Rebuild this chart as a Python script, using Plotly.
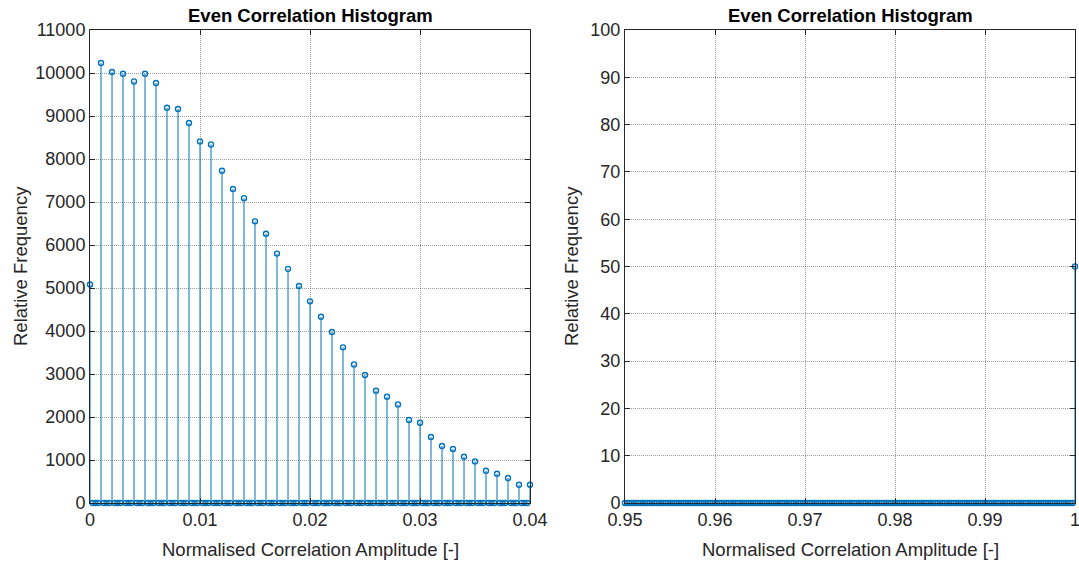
import numpy as np
import plotly.graph_objects as go

# Histogram bin centres (bin width 0.00025) and counts
bin_width = 0.00025
bin_centres = np.round(np.arange(0, 1 + bin_width / 2, bin_width), 5)

# non-zero bins (multiples of 0.001 from 0 to 0.04, plus the peak at 1)
peak_x = [0.000, 0.001, 0.002, 0.003, 0.004, 0.005, 0.006, 0.007, 0.008, 0.009,
          0.010, 0.011, 0.012, 0.013, 0.014, 0.015, 0.016, 0.017, 0.018, 0.019,
          0.020, 0.021, 0.022, 0.023, 0.024, 0.025, 0.026, 0.027, 0.028, 0.029,
          0.030, 0.031, 0.032, 0.033, 0.034, 0.035, 0.036, 0.037, 0.038, 0.039,
          0.040, 1.000]
peak_counts = [5080, 10233, 10023, 9984, 9805, 9984, 9767, 9193, 9163, 8837,
               8409, 8340, 7728, 7302, 7090, 6550, 6263, 5800, 5445, 5047,
               4690, 4330, 3978, 3620, 3223, 2978, 2612, 2472, 2293, 1930,
               1867, 1535, 1326, 1256, 1077, 967, 751, 681, 581, 426,
               426, 50]

counts = np.zeros(len(bin_centres))
for px, pc in zip(peak_x, peak_counts):
    counts[int(round(px / bin_width))] = pc

left_range = [0, 0.04]
right_range = [0.95, 1.0000001]
left_yticks = list(range(0, 11001, 1000))
right_yticks = list(range(0, 101, 10))
left_xticks = [0, 0.01, 0.02, 0.03, 0.04]
left_xlabels = ["0", "0.01", "0.02", "0.03", "0.04"]
right_xticks = [0.95, 0.96, 0.97, 0.98, 0.99, 1.0]
right_xlabels = ["0.95", "0.96", "0.97", "0.98", "0.99", "1"]

title_text = "Even Correlation Histogram"
xlabel = "Normalised Correlation Amplitude [-]"
ylabel = "Relative Frequency"

COLOR = "#0072BD"
FONT = "Liberation Sans, Arial, Helvetica, sans-serif"
AX = "#262626"

fig = go.Figure()


def add_stem(xr, xa, ya):
    m = (bin_centres >= xr[0] - 1e-9) & (bin_centres <= xr[1] + 1e-9)
    xs = bin_centres[m]
    ys = counts[m]
    lx, ly = [], []
    for a, b in zip(xs, ys):
        if b != 0:
            lx += [a, a, None]
            ly += [0, b, None]
    fig.add_trace(go.Scatter(x=lx, y=ly, mode="lines", xaxis=xa, yaxis=ya,
                             line=dict(color=COLOR, width=1), hoverinfo="skip",
                             showlegend=False))
    fig.add_trace(go.Scatter(x=xs, y=ys, mode="markers", xaxis=xa, yaxis=ya,
                             marker=dict(symbol="circle-open", size=5, color=COLOR,
                                         line=dict(width=1.4, color=COLOR)),
                             cliponaxis=False, showlegend=False))


add_stem(left_range, "x", "y")
add_stem(right_range, "x2", "y2")

H = 563
W = 1079
ydom = [1 - 503 / H, 1 - 30 / H]

axis_common = dict(showline=True, linecolor=AX, linewidth=1, mirror="allticks",
                   ticks="inside", ticklen=5, tickcolor=AX, automargin=False,
                   showgrid=True, gridcolor="rgba(38,38,38,0.45)", griddash="1px,1px",
                   gridwidth=1, zeroline=False, ticklabeloverflow="allow",
                   tickfont=dict(family=FONT, size=18, color=AX))

fig.update_layout(
    width=W, height=H,
    margin=dict(l=0, r=0, t=0, b=0),
    paper_bgcolor="white", plot_bgcolor="white",
    font=dict(family=FONT, color=AX),
    xaxis=dict(domain=[90 / W, 530 / W], range=left_range, anchor="y",
               tickvals=left_xticks, ticktext=left_xlabels, **axis_common),
    yaxis=dict(domain=ydom, range=[0, 11000], anchor="x", tickvals=left_yticks,
               ticktext=[str(v) for v in left_yticks], **axis_common),
    xaxis2=dict(domain=[625 / W, 1075 / W], range=right_range, anchor="y2",
                tickvals=right_xticks, ticktext=right_xlabels, **axis_common),
    yaxis2=dict(domain=ydom, range=[0, 100], anchor="x2", tickvals=right_yticks,
                ticktext=[str(v) for v in right_yticks], **axis_common),
)

titles = []
for cx in (310, 850):
    titles.append(dict(text="<b>" + title_text + "</b>", x=cx / W, y=1 - 16 / H,
                       font=dict(size=18.5, family=FONT, color="black")))
    titles.append(dict(text=xlabel, x=cx / W, y=1 - 549 / H,
                       font=dict(size=18.5, family=FONT, color=AX)))
for cx in (20, 571):
    titles.append(dict(text=ylabel, x=cx / W, y=1 - 266 / H, textangle=-90,
                       font=dict(size=18.5, family=FONT, color=AX)))
for a in titles:
    fig.add_annotation(xref="paper", yref="paper", showarrow=False,
                       xanchor="center", yanchor="middle", **a)

fig.write_html("out.html")
